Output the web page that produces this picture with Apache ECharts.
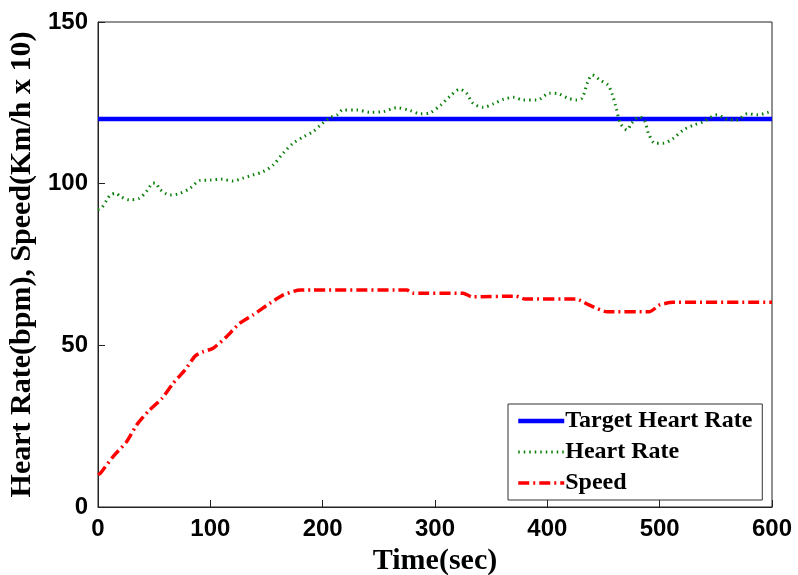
<!DOCTYPE html>
<html>
<head>
<meta charset="utf-8">
<script src="https://cdn.jsdelivr.net/npm/echarts@6/dist/echarts.min.js"></script>
<style>html,body{margin:0;padding:0;background:#fff}#c{width:798px;height:575px}</style>
</head>
<body>
<div id="c"></div>
<script>
var seriesNames = ['Target Heart Rate', 'Heart Rate', 'Speed'];
var targetTime = [0, 600];
var targetValue = [120, 120];
var hrTime = [0,3,8,11,16,20,28,37,44,48,51,55,60,64,73,82,91,100,110,120,129,138,147,156,165,174,183,191,200,207,213,218,230,242,254,266,278,287,296,305,313,322,328,334,343,352,361,370,378,391,402,410,418,426,431,436,440,447,454,458,461,465,471,475,482,487,490,496,503,512,521,530,539,551,560,569,578,587,596,600];
var hrValue = [92,92.4,95,96.5,97,96,95,95.5,98,100,100.2,98.3,97,96.5,97,98.6,101,101.1,101.4,100.8,101.7,102.7,103.7,105.8,109.5,112.6,114.5,116,118.7,120.5,121.3,122.8,122.8,122.1,122.3,123.5,122.6,121.6,122,124.3,126.9,129.2,128,124.8,123.6,124.7,126.1,126.7,125.9,125.9,128,127.8,126.5,125.9,126.5,131.5,133.6,132,130.5,127.4,123.8,118.7,116.6,118.7,120.7,119.2,115.6,112.5,112.5,114,116.6,118.1,119.2,121.3,119.9,119.7,121.6,121.3,122,122.5];
var speedTime = [0,2,13.5,25.5,34.5,44.5,57,67,77.5,86.5,93.5,102.5,114.5,126,138,153,165,180,275,280,325,333,372,380,426,437,453,491,500,512,600];
var speedValue = [10,10.4,15.6,20.2,25.4,29.5,33.6,38.3,42.4,46.7,48,49.1,52.7,56.8,59.4,63,65.6,67.1,67.1,66.1,66.1,65,65.2,64.3,64.3,62.5,60.4,60.4,62.5,63.3,63.3];
var xTicks = [0,100,200,300,400,500,600];
var yTicks = [0,50,100,150];

function pairs(t, v){ return t.map(function(x,i){ return [x, v[i]]; }); }

var chart = echarts.init(document.getElementById('c'), null, {renderer:'canvas'});
var tickFont = {fontFamily:'Liberation Sans', fontWeight:'bold', fontSize:24, color:'#000'};
var axisLineStyle = {color:'#222', width:1};
var colors = ['#0000ff', '#0a800a', '#ff0000'];
var styles = [
  {color:colors[0], width:4.5, type:'solid'},
  {color:colors[1], width:3, type:[1.5,4]},
  {color:colors[2], width:3.5, type:[11,4,2,4]}
];
chart.setOption({
  animation:false,
  backgroundColor:'#fff',
  grid:{left:98, right:26, top:22, bottom:68, show:true, borderColor:'#222', borderWidth:1,
        backgroundColor:'transparent', containLabel:false, outerBoundsMode:'none'},
  xAxis:{
    type:'value', min:xTicks[0], max:xTicks[xTicks.length-1], interval:100,
    axisLine:{show:true, lineStyle:axisLineStyle},
    axisTick:{show:true, inside:true, length:7, lineStyle:axisLineStyle},
    splitLine:{show:false},
    axisLabel:Object.assign({margin:10}, tickFont),
    name:'Time(sec)', nameLocation:'middle', nameGap:32,
    nameTextStyle:{fontFamily:'Liberation Serif', fontWeight:'bold', fontSize:30, color:'#000'}
  },
  yAxis:{
    type:'value', min:yTicks[0], max:yTicks[yTicks.length-1], interval:50,
    axisLine:{show:true, lineStyle:axisLineStyle},
    axisTick:{show:true, inside:true, length:7, lineStyle:axisLineStyle},
    splitLine:{show:false},
    axisLabel:Object.assign({margin:10}, tickFont),
    name:'Heart Rate(bpm), Speed(Km/h x 10)', nameLocation:'middle', nameGap:61,
    nameTextStyle:{fontFamily:'Liberation Serif', fontWeight:'bold', fontSize:30, color:'#000'}
  },
  legend:{
    orient:'vertical', left:508, top:404,
    backgroundColor:'#fff', borderColor:'#333', borderWidth:1,
    padding:[5,10,5,8], itemGap:7, itemWidth:46, itemHeight:14,
    itemStyle:{opacity:0},
    textStyle:{fontFamily:'Liberation Serif', fontWeight:'bold', fontSize:24, color:'#000', padding:[0,0,0,-4]},
    data:seriesNames.map(function(n, i){ return {name:n, lineStyle:styles[i]}; })
  },
  series:[
    {name:seriesNames[0], type:'line', data:pairs(targetTime, targetValue), showSymbol:false, symbol:'none',
     lineStyle:styles[0], itemStyle:{color:colors[0]}, z:2},
    {name:seriesNames[1], type:'line', data:pairs(hrTime, hrValue), showSymbol:false, symbol:'none', smooth:0.3,
     lineStyle:styles[1], itemStyle:{color:colors[1]}, z:3},
    {name:seriesNames[2], type:'line', data:pairs(speedTime, speedValue), showSymbol:false, symbol:'none', smooth:0.2,
     lineStyle:styles[2], itemStyle:{color:colors[2]}, z:3}
  ]
});
</script>
</body>
</html>
